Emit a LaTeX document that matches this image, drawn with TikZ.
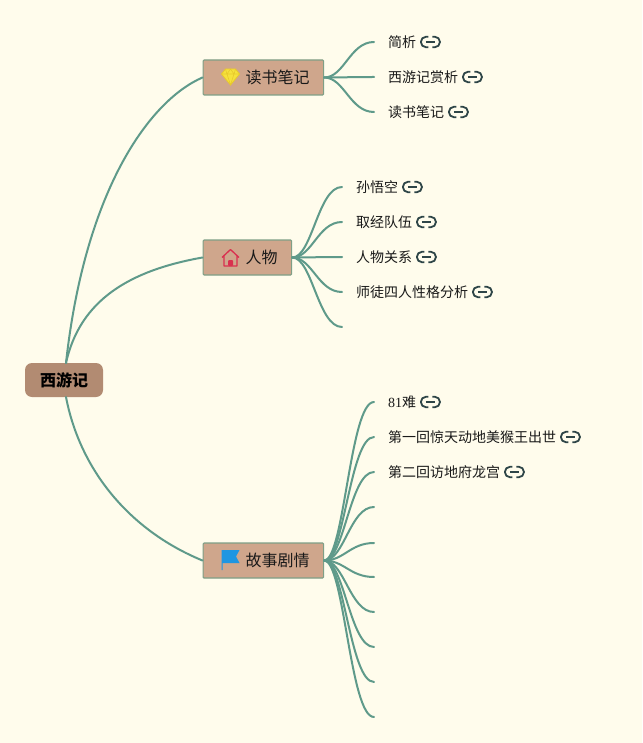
\documentclass[tikz,border=0pt]{standalone}
\usepackage{fontspec}
\setmainfont{Noto Sans CJK SC}
\newfontfamily\latinnum{Liberation Serif}
\definecolor{paper}{HTML}{FFFCEC}
\definecolor{branch}{HTML}{5F9A8A}
\definecolor{rootfill}{HTML}{B28B72}
\definecolor{boxfill}{HTML}{CFA68C}
\definecolor{boxline}{HTML}{7F9F86}
\definecolor{linkdark}{HTML}{2E4547}
\definecolor{gem}{HTML}{F6E23C}
\definecolor{gemline}{HTML}{E8C92C}
\definecolor{houseRed}{HTML}{D9304F}
\definecolor{flagBlue}{HTML}{1E96E2}
\tikzset{
  x=1pt,y=-1pt,
  rootbox/.style={fill=rootfill,rounded corners=7pt,minimum width=78pt,minimum height=34pt,inner sep=0pt,font=\fontsize{16}{18}\selectfont\bfseries,text=black},
  topicbox/.style={fill=boxfill,draw=boxline,line width=1.2pt,rounded corners=1pt,minimum height=35pt,inner xsep=14pt,inner ysep=0pt,anchor=west,font=\fontsize{16}{18}\selectfont,text=black!90},
  leaf/.style={anchor=west,inner sep=0pt,font=\fontsize{14}{16}\selectfont,text=black!90},
  mainlink/.style={draw=branch,line width=2pt,line cap=round},
  sublink/.style={draw=branch,line width=2pt,line cap=round},
  linkicon/.pic={
    \draw[linkdark,line width=1.8pt,rounded corners=5pt] (-2,-5.2) -- (-9.5,-5.2) -- (-9.5,5.2) -- (-2,5.2);
    \draw[linkdark,line width=1.8pt,rounded corners=5pt] (2,-5.2) -- (9.5,-5.2) -- (9.5,5.2) -- (2,5.2);
    \draw[linkdark,line width=1.8pt] (-4.5,0) -- (4.5,0);
  },
  gemicon/.pic={
    \fill[gem,draw=gemline,line width=.8pt,line join=round] (-9,-3) -- (-5,-8) -- (5,-8) -- (9,-3) -- (0,8) -- cycle;
    \draw[gemline,line width=.6pt] (-9,-3) -- (9,-3) (-5,-8) -- (-3.5,-3) -- (0,8) -- (3.5,-3) -- (5,-8) (-3.5,-3) -- (0,-8) -- (3.5,-3);
  },
  houseicon/.pic={
    \draw[houseRed,line width=1.3pt,line join=round] (-8.5,-.5) -- (0,-8.5) -- (8.5,-.5) (-6.5,-2) -- (-6.5,8) -- (6.5,8) -- (6.5,-2);
    \fill[houseRed,rounded corners=1pt] (-2.5,8) -- (-2.5,2) -- (2.5,2) -- (2.5,8) -- cycle;
  },
  flagicon/.pic={
    \fill[flagBlue] (-9,-10) -- (9,-10) -- (5.5,-3.5) -- (9,3) -- (-8,3) -- (-8,10) -- (-9,10) -- cycle;
  }
}
\begin{document}
\begin{tikzpicture}
\useasboundingbox[fill=paper] (0,0) rectangle (642,743);
% root
\node[rootbox] (root) at (64,380) {\raisebox{-1pt}{西游记}};
\coordinate (rootT) at (66,363);
\coordinate (rootB) at (66,397);
% topics
\node[topicbox] (t1) at (202.5,77.5) {\hspace*{28.5pt}\raisebox{-1pt}{读书笔记}};
\node[topicbox] (t2) at (202.5,257.5) {\hspace*{28.5pt}\raisebox{-1pt}{人物}};
\node[topicbox] (t3) at (202.5,560.5) {\hspace*{28.5pt}\raisebox{-1pt}{故事剧情}};
\pic at (230.5,77) {gemicon};
\pic at (230.5,258) {houseicon};
\pic at (230.5,560) {flagicon};
% root connectors
\draw[mainlink] (rootT) .. controls +(19,-173) and +(-53,23) .. (t1.west);
\draw[mainlink] (rootT) .. controls +(14,-63) and +(-73,13) .. (t2.west);
\draw[mainlink] (rootB) .. controls +(14,73) and +(-73,-30) .. (t3.west);
% leaves of first topic
\node[leaf] (a1) at (388,42) {简析};
\node[leaf] (a2) at (388,77) {西游记赏析};
\node[leaf] (a3) at (388,112) {读书笔记};
\foreach \n in {a1,a2,a3}{
  \draw[sublink] (t1.east) .. controls +(20,0) and +(-24,0) .. ([xshift=-14pt]\n.west);
  \pic at ([xshift=14pt]\n.east) {linkicon};
}
% leaves of second topic
\node[leaf] (b1) at (356,187) {孙悟空};
\node[leaf] (b2) at (356,222) {取经队伍};
\node[leaf] (b3) at (356,257) {人物关系};
\node[leaf] (b4) at (356,292) {师徒四人性格分析};
\coordinate (b5) at (342,327);
\foreach \n in {b1,b2,b3,b4}{
  \draw[sublink] (t2.east) .. controls +(20,0) and +(-24,0) .. ([xshift=-14pt]\n.west);
  \pic at ([xshift=14pt]\n.east) {linkicon};
}
\draw[sublink] (t2.east) .. controls +(20,0) and +(-24,0) .. (b5);
% leaves of third topic
\node[leaf] (c1) at (388,402) {{\latinnum 81}难};
\node[leaf] (c2) at (388,437) {第一回惊天动地美猴王出世};
\node[leaf] (c3) at (388,472) {第二回访地府龙宫};
\foreach \n in {c1,c2,c3}{
  \draw[sublink] (t3.east) .. controls +(20,0) and +(-24,0) .. ([xshift=-14pt]\n.west);
  \pic at ([xshift=14pt]\n.east) {linkicon};
}
\coordinate (c4) at (374,507);
\coordinate (c5) at (374,543);
\coordinate (c6) at (374,577);
\coordinate (c7) at (374,612);
\coordinate (c8) at (374,647);
\coordinate (c9) at (374,682);
\coordinate (c10) at (374,717);
\foreach \n in {c4,c5,c6,c7,c8,c9,c10}{
  \draw[sublink] (t3.east) .. controls +(20,0) and +(-24,0) .. (\n);
}
\end{tikzpicture}
\end{document}
